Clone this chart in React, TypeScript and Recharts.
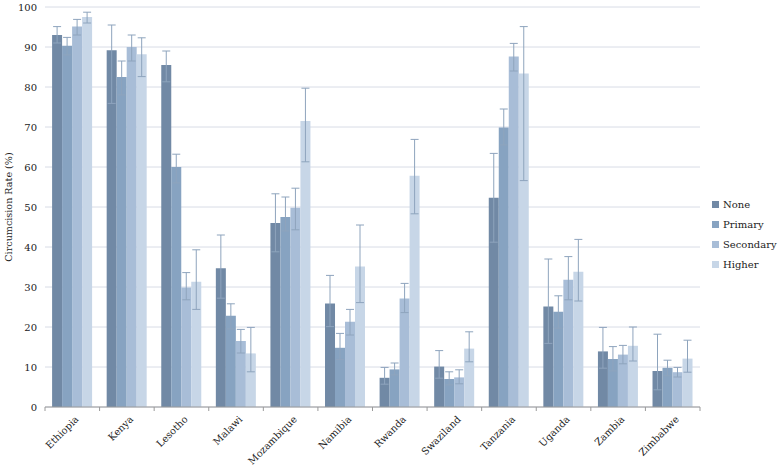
import React from "react";
import { BarChart, Bar, XAxis, YAxis, CartesianGrid, Legend, ErrorBar } from "recharts";

const countries = ["Ethiopia", "Kenya", "Lesotho", "Malawi", "Mozambique", "Namibia", "Rwanda", "Swaziland", "Tanzania", "Uganda", "Zambia", "Zimbabwe"];

const noneVal = [93, 89.2, 85.5, 34.7, 46, 25.9, 7.3, 10.1, 52.3, 25.1, 13.9, 9];
const noneLow = [91, 75.9, 81.3, 27.2, 38.8, 20.1, 5.7, 7.2, 41.2, 15.9, 9.7, 4.3];
const noneHigh = [95.1, 95.5, 89, 43, 53.3, 32.9, 9.9, 14.1, 63.4, 37, 19.9, 18.2];

const primaryVal = [90.3, 82.5, 60, 22.8, 47.5, 14.8, 9.4, 7, 69.9, 23.8, 12, 9.8];
const primaryLow = [88, 78, 56, 19.5, 44, 11.9, 8, 5.5, 65.5, 19.7, 9, 7.8];
const primaryHigh = [92.4, 86.5, 63.2, 25.8, 52.5, 18.4, 11, 8.8, 74.5, 27.8, 15.1, 11.7];

const secondaryVal = [95.1, 90, 29.9, 16.5, 49.8, 21.3, 27.1, 7.4, 87.6, 31.8, 13.1, 8.7];
const secondaryLow = [93, 86.5, 26.8, 13.5, 44.3, 18, 23.6, 5.8, 84, 26.8, 10.8, 7.5];
const secondaryHigh = [96.9, 93, 33.6, 19.4, 54.7, 24.4, 30.9, 9.3, 90.9, 37.6, 15.4, 9.9];

const higherVal = [97.5, 88.2, 31.3, 13.4, 71.5, 35.1, 57.8, 14.6, 83.4, 33.8, 15.3, 12.1];
const higherLow = [96, 82.6, 24.4, 8.8, 61.3, 26.1, 48.3, 11.3, 56.6, 26.5, 11.5, 8.7];
const higherHigh = [98.7, 92.3, 39.3, 19.9, 79.7, 45.5, 66.9, 18.8, 95.1, 41.9, 20, 16.7];

const yTicks = [0, 10, 20, 30, 40, 50, 60, 70, 80, 90, 100];

const seriesNames = ["None", "Primary", "Secondary", "Higher"];
const seriesColors = ["#7189a5", "#87a3c1", "#a8bdd7", "#c7d6e7"];

const data = countries.map((c, i) => ({
  country: c,
  None: noneVal[i],
  NoneErr: [noneVal[i] - noneLow[i], noneHigh[i] - noneVal[i]],
  Primary: primaryVal[i],
  PrimaryErr: [primaryVal[i] - primaryLow[i], primaryHigh[i] - primaryVal[i]],
  Secondary: secondaryVal[i],
  SecondaryErr: [secondaryVal[i] - secondaryLow[i], secondaryHigh[i] - secondaryVal[i]],
  Higher: higherVal[i],
  HigherErr: [higherVal[i] - higherLow[i], higherHigh[i] - higherVal[i]],
}));

const FONT = "'DejaVu Serif', serif";

const CountryTick = (props: any) => {
  const { x, y, payload, index } = props;
  const off = payload && payload.offset ? payload.offset : 27;
  const axisY = y - 8;
  return (
    <g>
      <line x1={x - off} y1={axisY} x2={x - off} y2={axisY + 4} stroke="#9a9a9a" strokeWidth={1} />
      {index === countries.length - 1 ? (
        <line x1={x + off} y1={axisY} x2={x + off} y2={axisY + 4} stroke="#9a9a9a" strokeWidth={1} />
      ) : null}
      <g transform={`translate(${x + 2},${y})`}>
        <text x={0} y={0} dy={7} textAnchor="end" transform="rotate(-45)" fill="#222" fontSize={9.8} style={{ fontFamily: FONT }}>
          {payload.value}
        </text>
      </g>
    </g>
  );
};

const LegendContent = (props: any) => {
  const { payload } = props;
  const items = seriesNames
    .map((n) => (payload || []).find((p: any) => p.value === n))
    .filter(Boolean);
  return (
    <div style={{ paddingLeft: 12, fontFamily: FONT, fontSize: 10, color: "#222" }}>
      {items.map((p: any) => (
        <div key={p.value} style={{ height: 20, display: "flex", alignItems: "center", whiteSpace: "nowrap" }}>
          <span style={{ display: "inline-block", flexShrink: 0, width: 7, height: 7, background: p.color, marginRight: 4 }} />
          <span>{p.value}</span>
        </div>
      ))}
    </div>
  );
};

export default function App() {
  return (
    <div style={{ position: "absolute", left: 0, top: 0, background: "#fff", fontFamily: FONT }}>
      <BarChart
        width={780}
        height={469}
        data={data}
        margin={{ top: 7, right: 5, bottom: 0, left: 0 }}
        barCategoryGap="13%"
        barGap={0}
      >
        <CartesianGrid vertical={false} stroke="#d8dce6" strokeWidth={1} />
        <XAxis
          dataKey="country"
          height={62}
          interval={0}
          tickLine={false}
          tickSize={6}
          tickMargin={2}
          axisLine={{ stroke: "#9a9a9a" }}
          tick={<CountryTick />}
        />
        <YAxis
          width={45}
          domain={[0, 100]}
          ticks={yTicks}
          axisLine={false}
          tickLine={false}
          tickSize={6}
          tickMargin={2}
          tick={{ fill: "#222", fontSize: 10, style: { fontFamily: FONT } }}
          label={{
            value: "Circumcision Rate (%)",
            angle: -90,
            position: "insideLeft",
            dx: 4,
            style: { textAnchor: "middle", fill: "#222", fontSize: 9.6, fontFamily: FONT },
          }}
        />
        <Legend
          layout="vertical"
          align="right"
          verticalAlign="middle"
          width={75}
          content={<LegendContent />}
        />
        {seriesNames.map((s, i) => (
          <Bar key={s} dataKey={s} fill={seriesColors[i]} isAnimationActive={false}>
            <ErrorBar dataKey={`${s}Err`} width={4} stroke="#8ea4bd" strokeWidth={1} isAnimationActive={false} />
          </Bar>
        ))}
      </BarChart>
    </div>
  );
}
